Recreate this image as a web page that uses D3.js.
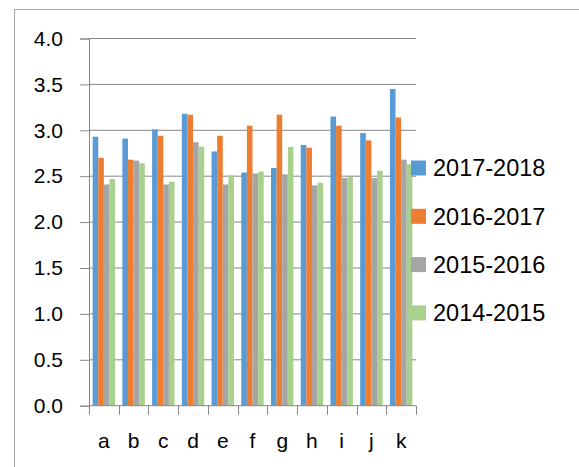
<!DOCTYPE html>
<html>
<head>
<meta charset="utf-8">
<script src="https://d3js.org/d3.v7.min.js"></script>
<style>
  html, body { margin: 0; padding: 0; background: #fff; }
  svg text { font-family: "Liberation Sans", Arial, sans-serif; fill: #000; }
</style>
</head>
<body>
<div id="chart"></div>
<script>
// data
var categories = ["a", "b", "c", "d", "e", "f", "g", "h", "i", "j", "k"];
var seriesNames = ["2017-2018", "2016-2017", "2015-2016", "2014-2015"];
var s2017_2018 = [2.93, 2.91, 3.01, 3.18, 2.77, 2.54, 2.59, 2.84, 3.15, 2.97, 3.45];
var s2016_2017 = [2.70, 2.68, 2.94, 3.17, 2.94, 3.05, 3.17, 2.81, 3.05, 2.89, 3.14];
var s2015_2016 = [2.41, 2.67, 2.41, 2.87, 2.41, 2.53, 2.52, 2.40, 2.48, 2.48, 2.68];
var s2014_2015 = [2.47, 2.64, 2.44, 2.82, 2.51, 2.55, 2.82, 2.43, 2.49, 2.56, 2.63];
var yTicks = [0, 0.5, 1.0, 1.5, 2.0, 2.5, 3.0, 3.5, 4.0];

var seriesValues = [s2017_2018, s2016_2017, s2015_2016, s2014_2015];
var colors = ["#5b9bd5", "#ed7d31", "#a5a5a5", "#a9d18e"];

var W = 579, H = 467;
var plot = {left: 89, right: 416, top: 38.5, bottom: 405.7};

var svg = d3.select("#chart")
  .append("svg")
    .attr("width", W)
    .attr("height", H);

// outer chart frame
svg.append("rect")
  .attr("x", 14.5)
  .attr("y", 9.5)
  .attr("width", 580)
  .attr("height", 480)
  .attr("fill", "none")
  .attr("stroke", "#a6a6a6");

var x = d3.scaleBand()
  .domain(categories)
  .range([plot.left, plot.right])
  .padding(0);

var x1 = d3.scaleBand()
  .domain(d3.range(seriesNames.length))
  .range([0, x.bandwidth()])
  .paddingInner(0)
  .paddingOuter(0.65);

var y = d3.scaleLinear()
  .domain([0, 4])
  .range([plot.bottom, plot.top]);

// gridlines
svg.append("g")
  .selectAll("line")
  .data(yTicks.filter(function(d) { return d > 0; }))
  .enter()
  .append("line")
    .attr("x1", plot.left)
    .attr("x2", plot.right)
    .attr("y1", function(d) { return y(d); })
    .attr("y2", function(d) { return y(d); })
    .attr("stroke", "#868686")
    .attr("stroke-width", 1);

// y axis
var yAxis = svg.append("g")
  .attr("transform", "translate(" + plot.left + ",0)")
  .call(d3.axisLeft(y).tickValues(yTicks).tickSize(9).tickPadding(17).tickFormat(d3.format(".1f")));
yAxis.select(".domain").attr("stroke", "#868686");
yAxis.selectAll(".tick line").attr("stroke", "#868686");
yAxis.selectAll("text")
  .attr("font-size", 21)
  .attr("fill", "#000")
  .style("font-family", "'Liberation Sans', Arial, sans-serif");

// bars
var groups = svg.append("g")
  .selectAll("g")
  .data(categories)
  .enter()
  .append("g")
    .attr("transform", function(d) { return "translate(" + x(d) + ",0)"; });

groups.selectAll("rect")
  .data(function(d, i) {
    return seriesValues.map(function(vals, s) { return {s: s, v: vals[i]}; });
  })
  .enter()
  .append("rect")
    .attr("x", function(d) { return x1(d.s); })
    .attr("width", x1.bandwidth())
    .attr("y", function(d) { return y(d.v); })
    .attr("height", function(d) { return y(0) - y(d.v); })
    .attr("fill", function(d) { return colors[d.s]; });

// x axis line and boundary ticks
svg.append("line")
  .attr("x1", plot.left)
  .attr("x2", plot.right)
  .attr("y1", y(0))
  .attr("y2", y(0))
  .attr("stroke", "#868686");

var bounds = categories.map(function(c) { return x(c); }).concat([plot.right]);
svg.append("g")
  .selectAll("line")
  .data(bounds)
  .enter()
  .append("line")
    .attr("x1", function(d) { return Math.round(d) + 0.5; })
    .attr("x2", function(d) { return Math.round(d) + 0.5; })
    .attr("y1", y(0))
    .attr("y2", y(0) + 9)
    .attr("stroke", "#868686");

svg.append("g")
  .selectAll("text")
  .data(categories)
  .enter()
  .append("text")
    .attr("x", function(d) { return x(d) + x.bandwidth() / 2; })
    .attr("y", 448)
    .attr("text-anchor", "middle")
    .attr("font-size", 21)
    .text(function(d) { return d; });

// legend
var legend = svg.append("g")
  .selectAll("g")
  .data(seriesNames)
  .enter()
  .append("g")
    .attr("transform", function(d, i) { return "translate(411," + (168 + i * 48.3) + ")"; });

legend.append("rect")
  .attr("x", 0)
  .attr("y", -7.5)
  .attr("width", 15)
  .attr("height", 15)
  .attr("fill", function(d, i) { return colors[i]; });

legend.append("text")
  .attr("x", 22)
  .attr("y", 0)
  .attr("dy", "0.35em")
  .attr("font-size", 23.5)
  .text(function(d) { return d; });
</script>
</body>
</html>
